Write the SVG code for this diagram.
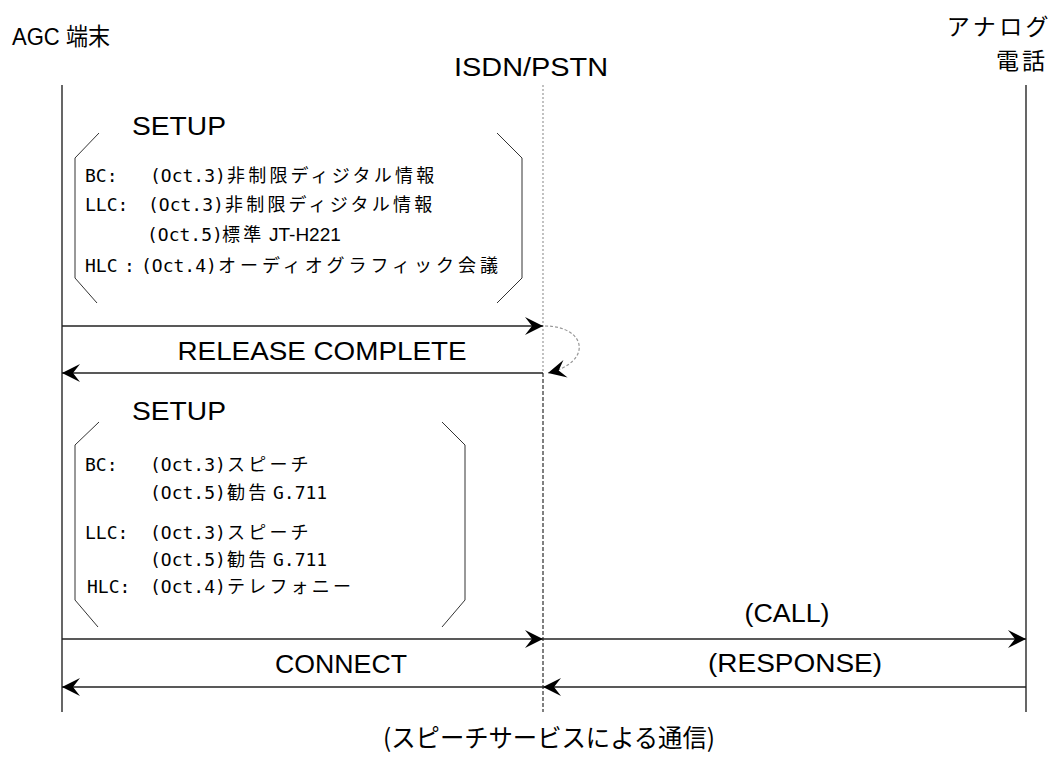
<svg xmlns="http://www.w3.org/2000/svg" width="1059" height="773" viewBox="0 0 1059 773">
<style>
.t{font-family:"Liberation Sans","Noto Sans CJK JP",sans-serif;font-size:26px;fill:#000}
.j{font-family:"Noto Sans CJK JP","Liberation Sans",sans-serif;fill:#000}
.m{font-family:"DejaVu Sans Mono","Noto Sans CJK JP",monospace;font-size:18px;fill:#000}
.k{font-family:"Noto Sans CJK JP",sans-serif;font-size:18px;letter-spacing:3.2px;fill:#000}
.life{stroke:#000;stroke-width:1.2;fill:none}
.msg{stroke:#222;stroke-width:1.3;fill:none}
.br{stroke:#333;stroke-width:1;fill:none}
</style>
<defs>
<marker id="ah" viewBox="-19 -10 20 20" refX="0" refY="0" markerWidth="20" markerHeight="20" markerUnits="userSpaceOnUse" orient="auto">
<path d="M0,0 L-18,-9 L-11,0 L-18,9 Z" fill="#000"/>
</marker>
</defs>
<g id="agc">
<text class="t" x="12" y="45" textLength="98" lengthAdjust="spacingAndGlyphs" style="font-size:24px">AGC 端末</text>
</g>
<g id="isdn">
<text class="t" x="531" y="76" text-anchor="middle" textLength="154" lengthAdjust="spacingAndGlyphs">ISDN/PSTN</text>
</g>
<g id="analog">
<text class="j" x="1052" y="35" text-anchor="end" font-size="23" letter-spacing="3.4">アナログ</text>
<text class="j" x="1048" y="69" text-anchor="end" font-size="23" letter-spacing="3">電話</text>
</g>
<g id="lifelines">
<line class="life" x1="62" y1="85" x2="62" y2="712"/>
<line class="life" x1="1026" y1="85" x2="1026" y2="712"/>
<line x1="543" y1="85" x2="543" y2="373" stroke="#999" stroke-width="1.2" stroke-dasharray="2,2"/>
<line x1="543" y1="373" x2="543" y2="712" stroke="#000" stroke-width="1" stroke-dasharray="4,2"/>
</g>
<g id="setup1">
<text class="t" x="132" y="135" textLength="94" lengthAdjust="spacingAndGlyphs">SETUP</text>
<path class="br" d="M99,133 L75,158 L75,278 L97,303"/>
<path class="br" d="M497,133 L522,158 L522,278 L497,303"/>
<text class="m" x="85" y="182">BC:</text>
<text class="m" x="150" y="182">(Oct.3)</text>
<text class="k" x="227" y="182">非制限ディジタル情報</text>
<text class="m" x="85" y="211">LLC:</text>
<text class="m" x="148" y="211">(Oct.3)</text>
<text class="k" x="225" y="211">非制限ディジタル情報</text>
<text class="m" x="147" y="241">(Oct.5)</text>
<text class="k" x="222" y="241">標準</text>
<text class="t" x="269" y="241" style="font-size:19px">JT-H221</text>
<text class="m" x="85" y="272">HLC</text>
<text class="m" x="124" y="272">:</text>
<text class="m" x="141" y="272">(Oct.4)</text>
<text class="k" x="218" y="272" style="letter-spacing:4px">オーディオグラフィック会議</text>
</g>
<g id="setup2">
<text class="t" x="132" y="420" textLength="94" lengthAdjust="spacingAndGlyphs">SETUP</text>
<path class="br" d="M99,422 L75,445 L75,600 L98,627"/>
<path class="br" d="M442,422 L465,445 L465,600 L442,627"/>
<text class="m" x="85" y="471">BC:</text>
<text class="m" x="150" y="471">(Oct.3)</text>
<text class="k" x="227" y="471">スピーチ</text>
<text class="m" x="150" y="499">(Oct.5)</text>
<text class="k" x="227" y="499">勧告</text>
<text class="m" x="273" y="499">G.711</text>
<text class="m" x="85" y="539">LLC:</text>
<text class="m" x="150" y="539">(Oct.3)</text>
<text class="k" x="227" y="539">スピーチ</text>
<text class="m" x="150" y="566">(Oct.5)</text>
<text class="k" x="227" y="566">勧告</text>
<text class="m" x="273" y="566">G.711</text>
<text class="m" x="87" y="593">HLC:</text>
<text class="m" x="150" y="593">(Oct.4)</text>
<text class="k" x="227" y="593">テレフォニー</text>
</g>
<g id="labels">
<text class="t" x="322" y="360" text-anchor="middle" textLength="289" lengthAdjust="spacingAndGlyphs">RELEASE COMPLETE</text>
<text class="t" x="787" y="622" text-anchor="middle" textLength="85" lengthAdjust="spacingAndGlyphs">(CALL)</text>
<text class="t" x="341" y="673" text-anchor="middle" textLength="132" lengthAdjust="spacingAndGlyphs">CONNECT</text>
<text class="t" x="795" y="672" text-anchor="middle" textLength="174" lengthAdjust="spacingAndGlyphs">(RESPONSE)</text>
<text class="j" x="549" y="747" text-anchor="middle" font-size="25" textLength="332" lengthAdjust="spacingAndGlyphs">(スピーチサービスによる通信)</text>
</g>
<g id="connectors">
<line class="msg" x1="62" y1="326" x2="543" y2="326" marker-end="url(#ah)"/>
<path d="M545,326 C586,326 594,362 548,373" stroke="#999" stroke-width="1.2" stroke-dasharray="3,2" fill="none" marker-end="url(#ah)"/>
<line class="msg" x1="543" y1="373" x2="62" y2="373" marker-end="url(#ah)"/>
<line class="msg" x1="62" y1="639" x2="543" y2="639" marker-end="url(#ah)"/>
<line class="msg" x1="543" y1="639" x2="1026" y2="639" marker-end="url(#ah)"/>
<line class="msg" x1="543" y1="687" x2="62" y2="687" marker-end="url(#ah)"/>
<line class="msg" x1="1026" y1="687" x2="543" y2="687" marker-end="url(#ah)"/>
</g>
</svg>
